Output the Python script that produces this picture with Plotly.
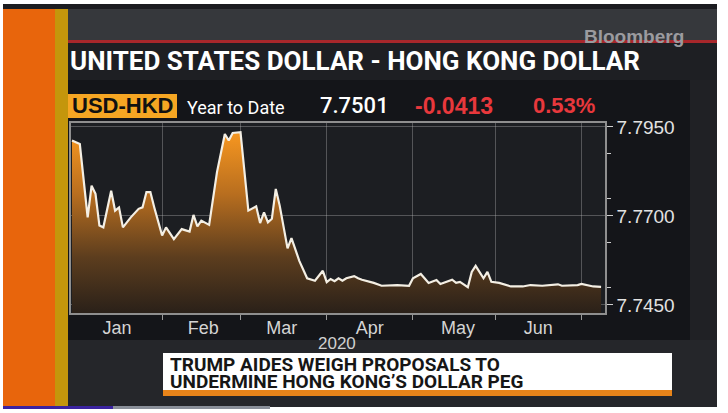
import plotly.graph_objects as go

# USD-HKD daily fixings, year to date (business days)
dates = [
    "2020-01-01", "2020-01-03", "2020-01-07", "2020-01-08", "2020-01-09", "2020-01-10",
    "2020-01-13", "2020-01-15", "2020-01-16", "2020-01-17", "2020-01-20", "2020-01-22",
    "2020-01-24", "2020-01-27", "2020-01-28", "2020-01-29", "2020-01-30",
    "2020-02-03", "2020-02-04", "2020-02-06", "2020-02-10", "2020-02-12", "2020-02-13",
    "2020-02-14", "2020-02-17", "2020-02-19", "2020-02-21", "2020-02-25", "2020-02-26",
    "2020-02-27",
    "2020-03-02", "2020-03-04", "2020-03-06", "2020-03-09", "2020-03-10", "2020-03-11",
    "2020-03-12", "2020-03-13", "2020-03-16", "2020-03-18", "2020-03-19", "2020-03-23",
    "2020-03-25", "2020-03-27", "2020-03-31",
    "2020-04-01", "2020-04-02", "2020-04-03", "2020-04-06", "2020-04-07", "2020-04-08",
    "2020-04-10", "2020-04-13", "2020-04-14", "2020-04-17", "2020-04-21", "2020-04-27",
    "2020-04-30",
    "2020-05-01", "2020-05-05", "2020-05-07", "2020-05-11", "2020-05-12", "2020-05-15",
    "2020-05-18", "2020-05-19", "2020-05-21", "2020-05-22", "2020-05-25", "2020-05-27",
    "2020-05-28", "2020-05-29",
    "2020-06-02", "2020-06-05", "2020-06-10", "2020-06-12", "2020-06-17", "2020-06-23",
    "2020-06-24", "2020-06-30",
    "2020-07-01", "2020-07-06", "2020-07-08",
]
usd_hkd = [
    7.7912, 7.7902, 7.7696, 7.7785, 7.7762, 7.7673,
    7.7668, 7.7771, 7.7715, 7.7724, 7.7668, 7.7696,
    7.7720, 7.7724, 7.7767, 7.7767, 7.7724,
    7.7645, 7.7668, 7.7635, 7.7663, 7.7656, 7.7703,
    7.7671, 7.7687, 7.7675, 7.7823, 7.7930, 7.7912,
    7.7933,
    7.7935, 7.7715, 7.7727, 7.7680, 7.7710, 7.7682,
    7.7692, 7.7776, 7.7729, 7.7609, 7.7638, 7.7574,
    7.7525, 7.7518, 7.7546,
    7.7514, 7.7523, 7.7517, 7.7525, 7.7518, 7.7525,
    7.7531, 7.7525, 7.7521, 7.7512, 7.7504, 7.7506,
    7.7504,
    7.7525, 7.7537, 7.7512, 7.7520, 7.7509, 7.7521,
    7.7512, 7.7515, 7.7500, 7.7543, 7.7560, 7.7525,
    7.7543, 7.7515,
    7.7512, 7.7502, 7.7502, 7.7506, 7.7504, 7.7508,
    7.7504, 7.7506,
    7.7509, 7.7502, 7.7501,
]

last_value = "7.7501"
change = "-0.0413"
change_pct = "0.53%"
headline = ["TRUMP AIDES WEIGH PROPOSALS TO", "UNDERMINE HONG KONG\u2019S DOLLAR PEG"]

W, H = 728, 413
PL, PR, PT, PB = 71, 605, 123, 313  # plot area in pixels


def px(x):
    return (x - PL) / (PR - PL)


def py(y):
    return (PB - y) / (PB - PT)


def rect(x0, y0, x1, y1, color):
    return dict(type="rect", xref="paper", yref="paper", layer="below",
                x0=px(x0), x1=px(x1), y0=py(y1), y1=py(y0),
                fillcolor=color, line=dict(width=0))


def text(x, y, s, size, color, family="Liberation Sans, Arial", weight="normal",
         xanchor="left", yanchor="middle"):
    return dict(x=px(x), y=py(y), xref="paper", yref="paper", text=s, showarrow=False,
                xanchor=xanchor, yanchor=yanchor,
                font=dict(size=size, color=color, family=family, weight=weight))


fig = go.Figure()

fig.add_trace(
    go.Scatter(
        x=dates,
        y=usd_hkd,
        mode="lines",
        fill="tozeroy",
        fillgradient=dict(
            type="vertical",
            start=7.743,
            stop=7.794,
            colorscale=[[0, "#2b2119"], [0.3, "#5c3d1e"], [0.65, "#b86e1f"], [1, "#f99820"]],
        ),
        line=dict(color="#f4efe4", width=2.2),
        hoverinfo="skip",
    )
)

shapes = [
    # studio frame
    rect(3, 4, 717, 407, "#1b1c20"),
    rect(64, 9, 717, 40, "#36383c"),
    rect(64, 40, 717, 80, "#1e1f23"),
    rect(64, 40, 717, 43, "#a8272b"),
    rect(64, 80, 690, 340, "#141519"),
    rect(690, 80, 717, 340, "#202125"),
    rect(64, 340, 717, 407, "#25262a"),
    rect(3, 9, 55, 407, "#e8650c"),
    rect(55, 9, 68, 407, "#c4960c"),
    rect(3, 406, 113, 409, "#3b23a0"),
    rect(113, 406, 270, 409, "#8a8f99"),
    # plot background
    rect(PL, PT, PR, PB, "#1c1e22"),
    # header tag
    rect(68, 94, 177, 118, "#f6a623"),
    # headline box
    rect(163, 353, 672, 390, "#ffffff"),
    rect(163, 390, 672, 396, "#e8841a"),
]

annotations = [
    text(582, 37, "Bloomberg", 19, "#9b9b9f", weight="bold"),
    text(68, 61, "UNITED STATES DOLLAR - HONG KONG DOLLAR", 26, "#ffffff",
         family="Roboto", weight="bold"),
    text(70, 106, "USD-HKD", 22, "#111111", weight="bold"),
    text(185, 107, "Year to Date", 18, "#ffffff", family="Roboto"),
    text(318, 106, last_value, 22, "#ffffff", family="Roboto", weight=500),
    text(413, 106, change, 23, "#e8383c", weight="bold"),
    text(531, 106, change_pct, 22, "#e8383c", weight="bold"),
    text(337, 343, "2020", 17, "#d0d0d0", xanchor="center"),
]
# two tightly stacked headline lines, as on the TV lower third
for i, line in enumerate(headline):
    ann = text(168, 364 + 16.5 * i, line, 19, "#161616", family="Roboto", weight="bold")
    ann["height"] = 16
    annotations.append(ann)

fig.update_layout(
    width=W,
    height=H,
    margin=dict(l=PL, r=W - PR, t=PT, b=H - PB),
    paper_bgcolor="#ffffff",
    plot_bgcolor="rgba(0,0,0,0)",
    showlegend=False,
    shapes=shapes,
    annotations=annotations,
    xaxis=dict(
        type="date",
        range=["2019-12-31 18:00", "2020-07-09"],
        rangebreaks=[dict(bounds=["sat", "mon"])],
        tick0="2020-01-01",
        dtick="M1",
        tickformat="%b",
        ticklabelmode="period",
        ticks="outside",
        ticklen=5,
        tickcolor="#9a9a9a",
        ticklabelstandoff=-7,
        tickfont=dict(size=18, color="#d4d4d4", family="Liberation Sans, Arial"),
        showgrid=True,
        gridcolor="rgba(190,190,190,0.35)",
        gridwidth=1,
        showline=True,
        linecolor="#8f8f8f",
        linewidth=1.5,
        mirror=True,
        zeroline=False,
    ),
    yaxis=dict(
        range=[7.74275, 7.7961],
        side="right",
        tick0=7.745,
        dtick=0.025,
        tickformat=".4f",
        ticks="outside",
        ticklen=6,
        tickcolor="#cfcfcf",
        tickfont=dict(size=19, color="#e2e2e2", family="Liberation Sans, Arial"),
        minor=dict(dtick=0.0125, ticks="outside", ticklen=4, tickcolor="#cfcfcf", showgrid=False),
        showgrid=True,
        gridcolor="rgba(190,190,190,0.35)",
        gridwidth=1,
        showline=True,
        linecolor="#8f8f8f",
        linewidth=1.5,
        mirror=True,
        zeroline=False,
    ),
)

# page body has a default 8px margin; drop it so the figure fills the window
fig.write_html(
    "out.html",
    config={"displayModeBar": False},
    post_script="document.body.style.margin='0';",
)
